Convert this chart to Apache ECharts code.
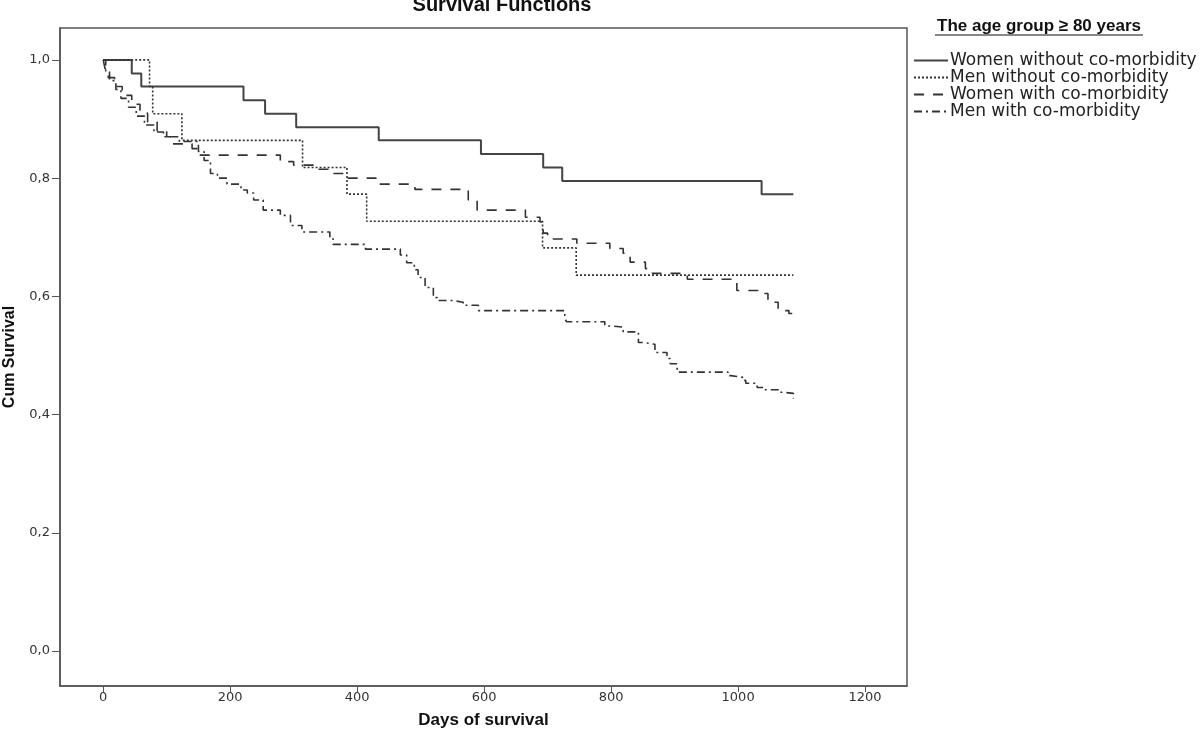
<!DOCTYPE html>
<html>
<head>
<meta charset="utf-8">
<title>Survival Functions</title>
<script src="https://cdn.jsdelivr.net/npm/echarts@6/dist/echarts.min.js"></script>
<style>
  html, body { margin: 0; padding: 0; background: #fff; }
  #main { width: 1200px; height: 736px; }
</style>
</head>
<body>
<div id="main"></div>
<script>
// Kaplan-Meier curves (day, cumulative survival)
var womenNoComDays = [0, 45, 60, 221, 255, 304, 434, 595, 693, 723, 1037, 1087];
var womenNoComSurv = [1.0, 0.977, 0.955, 0.932, 0.909, 0.886, 0.864, 0.841, 0.818, 0.795, 0.773, 0.773];

var menNoComDays = [0, 73, 78, 124, 314, 384, 415, 692, 745, 1087];
var menNoComSurv = [1.0, 0.955, 0.909, 0.864, 0.818, 0.773, 0.727, 0.682, 0.636, 0.636];

var womenComDays = [0, 3, 8, 18, 30, 45, 58, 70, 85, 100, 108, 140, 148, 279, 300, 337, 362, 384, 430, 491,
  575, 589, 665, 688, 693, 700, 746, 798, 819, 830, 854, 865, 920, 990, 998, 1031, 1047, 1063, 1080, 1087];
var womenComSurv = [1.0, 0.985, 0.97, 0.955, 0.94, 0.925, 0.91, 0.895, 0.88, 0.87, 0.858, 0.85, 0.839, 0.828, 0.822, 0.815, 0.808, 0.80, 0.79, 0.781,
  0.763, 0.746, 0.734, 0.726, 0.707, 0.697, 0.69, 0.681, 0.673, 0.658, 0.647, 0.639, 0.629, 0.624, 0.61, 0.605, 0.59, 0.576, 0.571, 0.571];

var menComDays = [0, 4, 10, 20, 28, 40, 52, 65, 80, 95, 120, 150, 159, 169, 180, 195, 217, 227, 237, 252,
  279, 295, 313, 357, 362, 413, 468, 478, 490, 496, 507, 520, 526, 551, 567, 591, 727, 730, 790, 800,
  819, 843, 851, 869, 888, 893, 904, 984, 988, 1008, 1012, 1030, 1040, 1066, 1070, 1087];
var menComSurv = [1.0, 0.98, 0.965, 0.95, 0.935, 0.92, 0.905, 0.89, 0.878, 0.87, 0.862, 0.845, 0.83, 0.808, 0.80, 0.79, 0.78, 0.775, 0.763, 0.746,
  0.737, 0.72, 0.709, 0.698, 0.688, 0.68, 0.67, 0.657, 0.645, 0.632, 0.615, 0.598, 0.593, 0.59, 0.585, 0.576, 0.563, 0.557, 0.55, 0.548,
  0.54, 0.522, 0.519, 0.505, 0.495, 0.486, 0.472, 0.466, 0.463, 0.458, 0.453, 0.446, 0.442, 0.438, 0.436, 0.427];

var groupNames = ["Women without co-morbidity", "Men without co-morbidity", "Women with co-morbidity", "Men with co-morbidity"];
var xTicks = [0, 200, 400, 600, 800, 1000, 1200];
var yTicks = [0, 0.2, 0.4, 0.6, 0.8, 1.0];

function pairs(days, surv) {
  return days.map(function (d, i) { return [d, surv[i]]; });
}

var frame = "#555";
var chart = echarts.init(document.getElementById("main"));

function km(name, data, width, dash, color) {
  return {
    name: name,
    type: "line",
    step: "end",
    symbol: "none",
    data: data,
    lineStyle: { color: color, width: width, type: dash },
    itemStyle: { color: color },
    emphasis: { disabled: true },
    animation: false
  };
}

var option = {
  animation: false,
  grid: {
    left: 60, right: 293, top: 28, bottom: 50,
    containLabel: false,
    outerBoundsMode: "none",
    show: true, borderColor: frame, borderWidth: 1.5
  },
  legend: {
    orient: "vertical",
    left: 908, top: 47,
    itemWidth: 34, itemHeight: 10, itemGap: 0,
    data: groupNames,
    itemStyle: { opacity: 0 },
    textStyle: { fontFamily: "DejaVu Sans", fontSize: 17, color: "#222", lineHeight: 17, padding: [0, 0, 0, -3] }
  },
  xAxis: {
    type: "value",
    min: -68, max: 1266,
    name: "Days of survival",
    nameLocation: "middle",
    nameGap: 26,
    nameTextStyle: { fontFamily: "Liberation Sans", fontWeight: "bold", fontSize: 17, color: "#111" },
    axisLine: { show: true, onZero: false, lineStyle: { color: frame, width: 1.5 } },
    axisTick: { show: true, customValues: xTicks, length: 6, lineStyle: { color: frame } },
    axisLabel: {
      customValues: xTicks, color: "#333", fontFamily: "DejaVu Sans", fontSize: 13, margin: 5,
      formatter: function (v) { return String(v); }
    },
    splitLine: { show: false }
  },
  yAxis: {
    type: "value",
    min: -0.059, max: 1.054,
    name: "Cum Survival",
    nameLocation: "middle",
    nameGap: 42,
    nameRotate: 90,
    nameTextStyle: { fontFamily: "Liberation Sans", fontWeight: "bold", fontSize: 16, color: "#111" },
    axisLine: { show: true, onZero: false, lineStyle: { color: frame, width: 1.5 } },
    axisTick: { show: true, customValues: yTicks, length: 8, lineStyle: { color: frame } },
    axisLabel: {
      customValues: yTicks, color: "#333", fontFamily: "DejaVu Sans", fontSize: 13, margin: 10,
      formatter: function (v) { return v.toFixed(1).replace(".", ","); }
    },
    splitLine: { show: false }
  },
  graphic: [
    {
      type: "text", x: 502, y: 5,
      style: {
        text: "Survival Functions", textAlign: "center", textVerticalAlign: "middle",
        font: "bold 20px 'Liberation Sans'", fill: "#111"
      }
    },
    {
      type: "text", x: 1039, y: 26,
      style: {
        text: "The age group \u2265 80 years", textAlign: "center", textVerticalAlign: "middle",
        font: "bold 17px 'Liberation Sans'", fill: "#111"
      }
    },
    {
      type: "line", shape: { x1: 935, y1: 35, x2: 1143, y2: 35 },
      style: { stroke: "#111", lineWidth: 1.2 }
    }
  ],
  series: [
    km(groupNames[0], pairs(womenNoComDays, womenNoComSurv), 2, "solid", "#444"),
    km(groupNames[1], pairs(menNoComDays, menNoComSurv), 1.6, [2, 2], "#333"),
    km(groupNames[2], pairs(womenComDays, womenComSurv), 1.6, [10, 9], "#333"),
    km(groupNames[3], pairs(menComDays, menComSurv), 1.6, [8, 4, 2, 4], "#333")
  ]
};

chart.setOption(option);
</script>
</body>
</html>
